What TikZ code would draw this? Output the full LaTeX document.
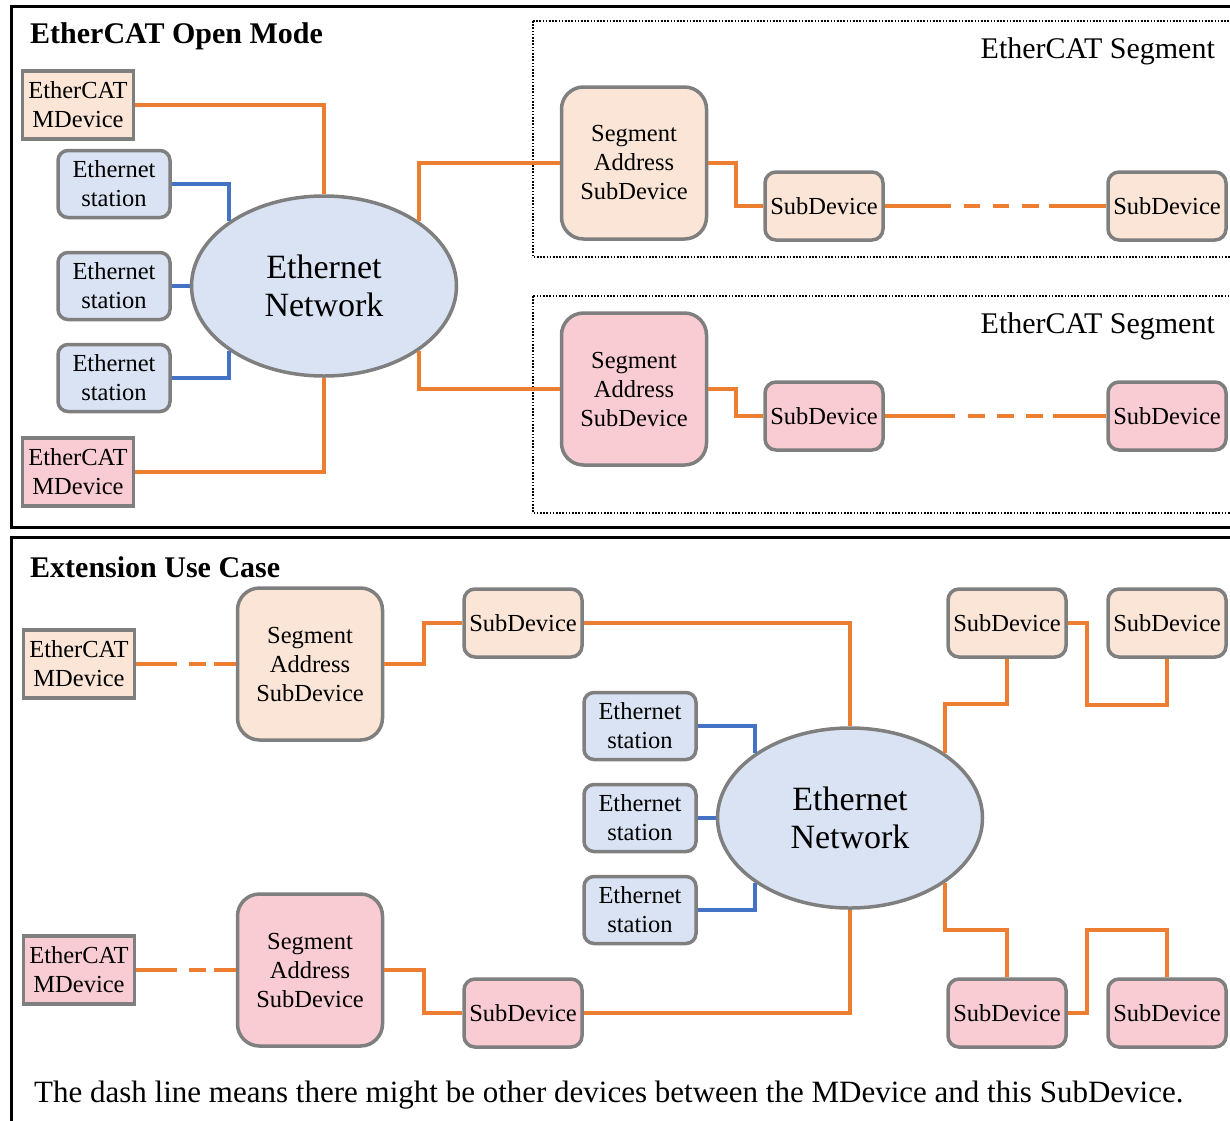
\documentclass[tikz,border=0pt]{standalone}
\usepackage{fontspec}
\setmainfont{Liberation Serif}
\usepackage{tikz}
\usetikzlibrary{calc}
\usetikzlibrary{shapes}
\definecolor{peach}{HTML}{FBE5D6}
\definecolor{rose}{HTML}{F9CBD3}
\definecolor{netblue}{HTML}{DAE3F3}
\definecolor{boxgray}{HTML}{7F7F7F}
\definecolor{ecorange}{HTML}{ED7D31}
\definecolor{ethblue}{HTML}{4472C4}
\tikzset{
  devbox/.style={draw=boxgray, line width=3.5pt, align=center, inner sep=0pt,
    font=\fontsize{24.5}{29}\selectfont},
  mdev/.style={devbox, minimum width=111pt, minimum height=68pt},
  station/.style={devbox, fill=netblue, rounded corners=10pt, minimum width=112pt, minimum height=67pt},
  subdev/.style={devbox, rounded corners=11pt, minimum width=118pt, minimum height=68pt},
  segaddr/.style={devbox, rounded corners=22pt, minimum width=145pt, minimum height=152pt},
  netcloud/.style={ellipse, draw=boxgray, line width=3.5pt, fill=netblue, align=center,
    minimum width=265pt, minimum height=180pt, font=\fontsize{34}{38}\selectfont},
  ecat/.style={draw=ecorange, line width=4pt},
  eth/.style={draw=ethblue, line width=4pt},
  heading/.style={anchor=west, inner sep=0pt, font=\bfseries\fontsize{30}{34}\selectfont},
  seglabel/.style={anchor=east, inner sep=0pt, font=\fontsize{30}{34}\selectfont}
}
\newcommand{\segframe}[2]{\draw[line width=1.6pt, dash pattern=on 1.6pt off 1.6pt] (533,#1) rectangle (1245,#2);}

\begin{document}
\begin{tikzpicture}[x=1pt, y=-1pt]
        \useasboundingbox (0,0) rectangle (1230,1120);
        \clip (0,0) rectangle (1230,1120);
        % frames
        \draw[line width=3pt] (11,6) rectangle (1245,527);
        \draw[line width=3pt] (11,537) rectangle (1245,1135);
        \segframe{21}{257}
        \segframe{296}{513}

        % open mode
        \node[heading] (title1) at (30,36) {EtherCAT Open Mode};
        \node[seglabel] (seg1) at (1215,51) {EtherCAT Segment};
        \node[seglabel] (seg2) at (1215,326) {EtherCAT Segment};
        \node[mdev, fill=peach] (md1) at (78,105) {EtherCAT\\MDevice};
        \node[station] (es1) at (114,184) {Ethernet\\station};
        \node[station] (es2) at (114,286) {Ethernet\\station};
        \node[station] (es3) at (114,378) {Ethernet\\station};
        \node[mdev, fill=rose] (md2) at (78,472) {EtherCAT\\MDevice};
        \node[netcloud] (net1) at (324,286) {Ethernet\\Network};
        \node[segaddr, fill=peach] (sa1) at (634,163) {Segment\\Address\\SubDevice};
        \node[subdev, fill=peach] (sd1a) at (824,206) {SubDevice};
        \node[subdev, fill=peach] (sd1b) at (1167,206) {SubDevice};
        \node[segaddr, fill=rose] (sa2) at (634,389) {Segment\\Address\\SubDevice};
        \node[subdev, fill=rose] (sd2a) at (824,416) {SubDevice};
        \node[subdev, fill=rose] (sd2b) at (1167,416) {SubDevice};

        \draw[ecat] (md1.east) -| (net1.north);
        \draw[ecat] (md2.east) -| (net1.south);
        \draw[eth] (es1.east) -| (net1.north west);
        \draw[eth] (es2.east) -- (net1.west);
        \draw[eth] (es3.east) -| (net1.south west);
        \draw[ecat] (net1.north east) |- (sa1.west);
        \draw[ecat] (net1.south east) |- (sa2.west);
        \draw[ecat] (sa1.east) -- ++(28,0) |- (sd1a.west);
        \draw[ecat] (sa2.east) -- ++(28,0) |- (sd2a.west);
        \draw[ecat, dash pattern=on 66pt off 13pt on 16pt off 13pt on 16pt off 13pt on 17pt off 10pt on 300pt] (sd1a.east) -- (sd1b.west);
        \draw[ecat, dash pattern=on 70pt off 13pt on 17pt off 12pt on 17pt off 12pt on 17pt off 10pt on 300pt] (sd2a.east) -- (sd2b.west);

        % extension use case
        \node[heading] (title2) at (30,567) {Extension Use Case};
        \node[mdev, fill=peach] (md3) at (79,664) {EtherCAT\\MDevice};
        \node[segaddr, fill=peach] (sa3) at (310,664) {Segment\\Address\\SubDevice};
        \node[subdev, fill=peach] (sd3) at (523,623) {SubDevice};
        \node[mdev, fill=rose] (md4) at (79,970) {EtherCAT\\MDevice};
        \node[segaddr, fill=rose] (sa4) at (310,970) {Segment\\Address\\SubDevice};
        \node[subdev, fill=rose] (sd4) at (523,1013) {SubDevice};
        \node[station] (es4) at (640,726) {Ethernet\\station};
        \node[station] (es5) at (640,818) {Ethernet\\station};
        \node[station] (es6) at (640,910) {Ethernet\\station};
        \node[netcloud] (net2) at (850,818) {Ethernet\\Network};
        \node[subdev, fill=peach] (sd5) at (1007,623) {SubDevice};
        \node[subdev, fill=peach] (sd6) at (1167,623) {SubDevice};
        \node[subdev, fill=rose] (sd7) at (1007,1013) {SubDevice};
        \node[subdev, fill=rose] (sd8) at (1167,1013) {SubDevice};

        \draw[ecat, dash pattern=on 41pt off 12pt on 17pt off 8pt on 300pt] (md3.east) -- (sa3.west);
        \draw[ecat, dash pattern=on 41pt off 12pt on 17pt off 8pt on 300pt] (md4.east) -- (sa4.west);
        \draw[ecat] (sa3.east) -- ++(40,0) |- (sd3.west);
        \draw[ecat] (sa4.east) -- ++(40,0) |- (sd4.west);
        \draw[ecat] (sd3.east) -| (net2.north);
        \draw[ecat] (sd4.east) -| (net2.south);
        \draw[eth] (es4.east) -| (net2.north west);
        \draw[eth] (es5.east) -- (net2.west);
        \draw[eth] (es6.east) -| (net2.south west);
        \draw[ecat] (net2.north east) -- ++(0,-49) -| (sd5.south);
        \draw[ecat] (sd5.east) -- ++(19,0) -- ++(0,82) -| (sd6.south);
        \draw[ecat] (net2.south east) -- ++(0,47) -| (sd7.north);
        \draw[ecat] (sd7.east) -- ++(19,0) -- ++(0,-83) -| (sd8.north);

        \node[anchor=west, inner sep=0pt, font=\fontsize{31}{36}\selectfont] (note) at (34,1095)
          {The dash line means there might be other devices between the MDevice and this SubDevice.};
    \end{tikzpicture}
\end{document}
